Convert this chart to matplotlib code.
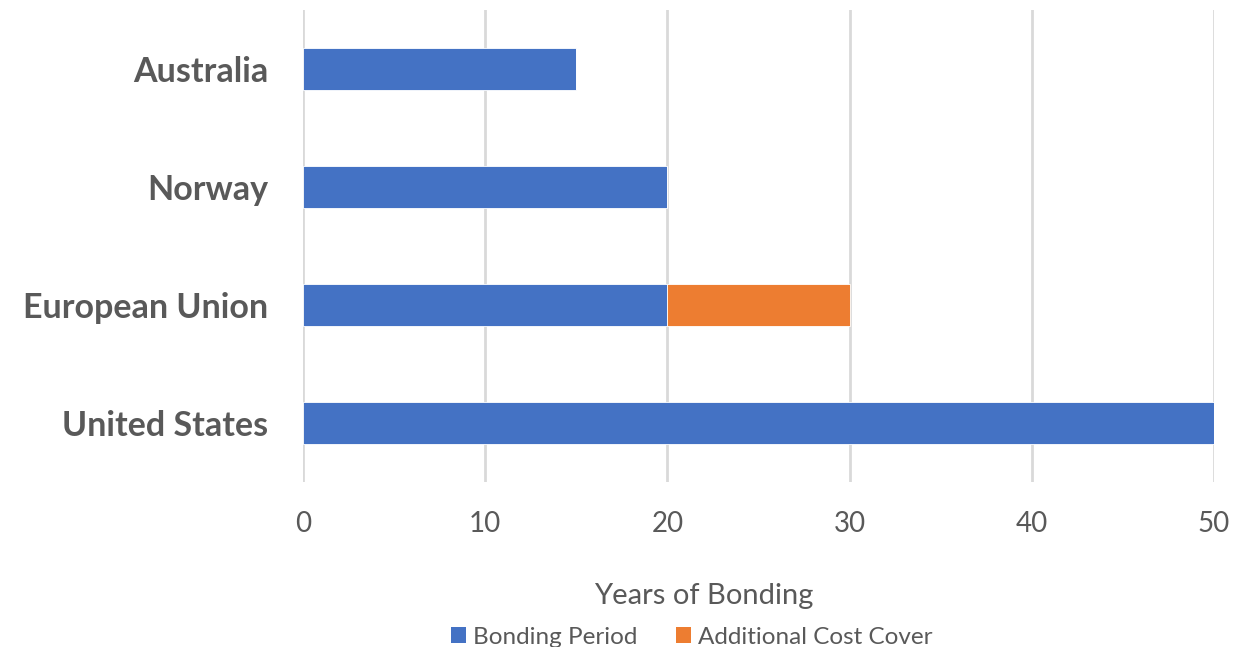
import matplotlib
matplotlib.use("Agg")
import matplotlib.pyplot as plt
from matplotlib.patches import Patch

countries = ["United States", "European Union", "Norway", "Australia"]
bonding_period = [50, 20, 20, 15]
additional_cost = [0, 10, 0, 0]
series_names = ["Bonding Period", "Additional Cost Cover"]
colors = ["#4472C4", "#ED7D31"]
xticks = [0, 10, 20, 30, 40, 50]

W, H = 1253, 647
fig = plt.figure(figsize=(W / 100, H / 100), dpi=100)
ax = fig.add_axes([303 / W, 1 - 482 / H, (1214 - 303) / W, (482 - 10) / H])

ypos = list(range(len(countries)))
bar_h = 0.35
ax.barh(ypos, bonding_period, height=bar_h, color=colors[0],
        edgecolor="white", linewidth=0.6, zorder=3)
ax.barh(ypos, additional_cost, left=bonding_period, height=bar_h,
        color=colors[1], edgecolor="white", linewidth=0.6, zorder=3)

ax.set_xlim(0, 50)
ax.set_ylim(-0.5, len(countries) - 0.5)
ax.set_xticks(xticks)
ax.set_yticks(ypos)
ax.set_yticklabels(countries, fontfamily="Lato", fontweight="bold",
                   fontsize=24.5, color="#595959")
ax.set_xticklabels([str(v) for v in xticks], fontfamily="Lato",
                   fontsize=20, color="#595959")
ax.tick_params(axis="y", length=0, pad=25)
ax.tick_params(axis="x", length=0, pad=21)

ax.grid(axis="x", color="#d9d9d9", linewidth=2, zorder=0)
for s in ax.spines.values():
    s.set_visible(False)

ax.set_xlabel("Years of Bonding", fontfamily="Lato", fontsize=21,
              color="#595959", labelpad=33)
ax.xaxis.label.set_x(0.44)

handles = [Patch(facecolor=c, edgecolor="none") for c in colors]
fig.legend(handles, series_names, loc="center", bbox_to_anchor=(692 / W, 1 - 637 / H),
           ncol=2, frameon=False, prop={"family": "Lato", "size": 17.5},
           labelcolor="#595959", handlelength=0.6, handleheight=0.6,
           handletextpad=0.3, columnspacing=1.6)

fig.savefig("out.png", dpi=100)
